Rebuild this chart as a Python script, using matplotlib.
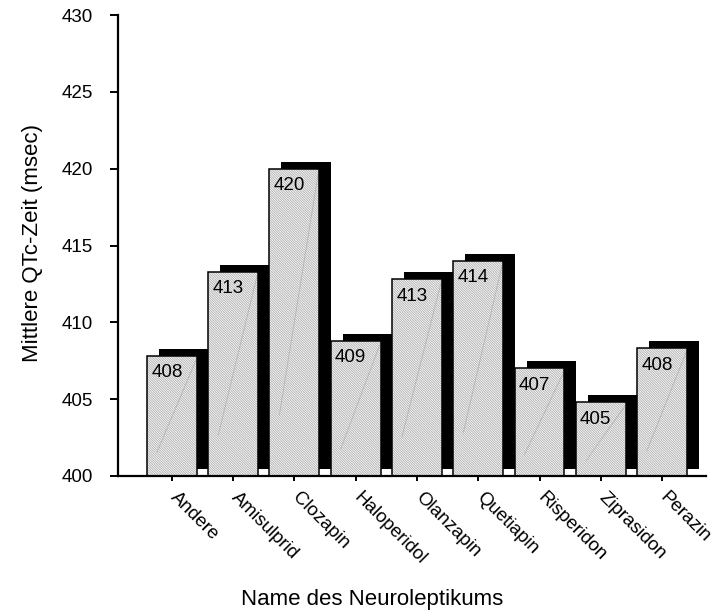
import matplotlib
matplotlib.use("Agg")
import matplotlib.pyplot as plt
import matplotlib.transforms as mtransforms
import numpy as np

plt.rcParams['font.family'] = ['Liberation Sans', 'DejaVu Sans']
plt.rcParams['hatch.linewidth'] = 0.5

# Data
names = ['Andere', 'Amisulprid', 'Clozapin', 'Haloperidol', 'Olanzapin',
         'Quetiapin', 'Risperidon', 'Ziprasidon', 'Perazin']
qtc = [407.8, 413.3, 420.0, 408.8, 412.8, 414.0, 407.0, 404.8, 408.3]
yticks = [400, 405, 410, 415, 420, 425, 430]

base = 400
W, H = 719, 611
fig = plt.figure(figsize=(W / 100, H / 100), dpi=100)
ax = fig.add_axes([118 / W, 1 - 476 / H, (706 - 118) / W, (476 - 15) / H])

x = np.arange(len(names))
width = 0.816
heights = [v - base for v in qtc]

# shadow (offset right / up)
shadow_tr = ax.transData + mtransforms.ScaledTranslation(12 / 100, 7 / 100, fig.dpi_scale_trans)
ax.bar(x, heights, width=width, bottom=base, color='black', linewidth=0,
       transform=shadow_tr, zorder=1)
# front faces: hatched fill
ax.bar(x, heights, width=width, bottom=base, facecolor='#f6f6f6',
       edgecolor='#a6a6a6', hatch='\\' * 14, linewidth=0, zorder=2)
# faint diagonal artefact lines
for xi, v in zip(x, qtc):
    ax.plot([xi - width / 2 + 0.2 * width, xi + width / 2 - 0.02],
            [base + 0.2 * (v - base), v - 0.3],
            color='#b5b5b5', lw=0.6, zorder=3)
# outlines
ax.bar(x, heights, width=width, bottom=base, facecolor='none',
       edgecolor='black', linewidth=1.1, zorder=4)

# value labels
for xi, v in zip(x, qtc):
    ax.annotate(f"{v:.0f}", xy=(xi - width / 2, v), xytext=(3, -6),
                textcoords='offset points', ha='left', va='top',
                fontsize=13.5, zorder=5)

ax.set_xlim(-0.881, 8.718)
ax.set_ylim(400, 430)
ax.set_yticks(yticks)
ax.set_yticklabels([str(t) for t in yticks], fontsize=13.5)
ax.set_xticks(x)
ax.set_xticklabels([])

# rotated category labels
lab_tr = ax.get_xaxis_transform() + mtransforms.ScaledTranslation(7 / 100, -13 / 100, fig.dpi_scale_trans)
for xi, name in zip(x, names):
    ax.text(xi, 0, name, transform=lab_tr, rotation=-45, ha='left', va='top',
            rotation_mode='anchor', fontsize=13.5, clip_on=False)

for s in ['top', 'right']:
    ax.spines[s].set_visible(False)
for s in ['left', 'bottom']:
    ax.spines[s].set_linewidth(1.6)
ax.tick_params(axis='y', length=6, width=1.4, pad=12)
ax.tick_params(axis='x', length=3.5, width=1.4, pad=4)

fig.text(372 / W, 1 - 600 / H, 'Name des Neuroleptikums', ha='center',
         va='center', fontsize=16)
fig.text(33 / W, 1 - 243 / H, 'Mittlere QTc-Zeit (msec)', ha='center',
         va='center', rotation=90, fontsize=16)

fig.savefig('out.png', dpi=100, facecolor='white')
